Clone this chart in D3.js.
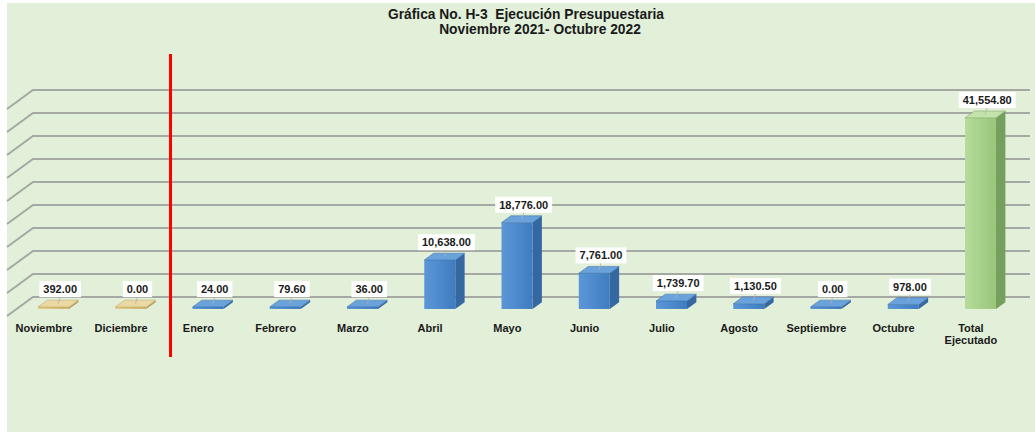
<!DOCTYPE html>
<html>
<head>
<meta charset="utf-8">
<script src="https://d3js.org/d3.v7.min.js"></script>
<style>
  body { margin: 0; background: #fff; }
  text { font-family: "Liberation Sans", Arial, Helvetica, sans-serif; font-weight: bold; fill: #1a1a1a; }
  .title { white-space: pre; font-size: 13.8px; }
</style>
</head>
<body>
<script>
// data
var categories = ["Noviembre", "Diciembre", "Enero", "Febrero", "Marzo", "Abril", "Mayo",
  "Junio", "Julio", "Agosto", "Septiembre", "Octubre", "Total Ejecutado"];
var values = [392.00, 0.00, 24.00, 79.60, 36.00, 10638.00, 18776.00,
  7761.00, 1739.70, 1130.50, 0.00, 978.00, 41554.80];
var groups = ["prev", "prev", "cur", "cur", "cur", "cur", "cur",
  "cur", "cur", "cur", "cur", "cur", "total"];
var titleLines = ["Gráfica No. H-3  Ejecución Presupuestaria", "Noviembre 2021- Octubre 2022"];

var W = 1035, H = 432;
var depthX = -26, depthY = 19;     // floor depth vector (back wall -> front)
var dFront = 0.63, dBack = 0.27;   // bar depth positions
var barW = 31;
var fmt = d3.format(",.2f");

var svg = d3.select("body").append("svg").attr("width", W).attr("height", H);

svg.append("rect").attr("x", 7).attr("y", 3).attr("width", W - 7).attr("height", H - 3)
  .attr("fill", "#e2efd9");

var y = d3.scaleLinear().domain([0, 45000]).range([297, 90]);
var x = d3.scalePoint().domain(categories).range([69.9, 69.9 + 12 * 77.25]);

var colors = {
  prev: { front: ["#e0cc8a", "#cdb46c"], side: "#b9a062", top: "#ead9a2" },
  cur: { front: ["#5b97d8", "#3f7cc0"], side: "#3568a0", top: "#6aa2dc" },
  total: { front: ["#b6dc9b", "#98c67a"], side: "#769e5e", top: "#c2e3a9" }
};

var defs = svg.append("defs");
Object.keys(colors).forEach(function (k) {
  var g = defs.append("linearGradient").attr("id", "g-" + k)
    .attr("x1", "0").attr("x2", "1").attr("y1", "0").attr("y2", "0");
  g.append("stop").attr("offset", "0%").attr("stop-color", colors[k].front[0]);
  g.append("stop").attr("offset", "100%").attr("stop-color", colors[k].front[1]);
});

// title
svg.append("text").attr("class", "title").attr("x", 526).attr("y", 18.5).attr("text-anchor", "middle")
  .text(titleLines[0]);
svg.append("text").attr("class", "title").attr("x", 540).attr("y", 33.5).attr("text-anchor", "middle")
  .text(titleLines[1]);

// gridlines: back wall + left side wall
var grid = svg.append("g");
y.ticks(10).forEach(function (t) {
  grid.append("path")
    .attr("d", "M" + (33 + depthX) + "," + (y(t) + depthY) + "L33," + y(t) + "L1030," + y(t))
    .attr("fill", "none").attr("stroke", "#a6a8a3").attr("stroke-width", 2);
});

// bars
var bars = svg.append("g");
values.forEach(function (v, i) {
  var cx = x(categories[i]);
  var x0 = cx - barW / 2, x1 = cx + barW / 2;
  var h = Math.max(y(0) - y(v), 2);
  var top = y(0) - h;
  var c = colors[groups[i]];
  var off = [depthX * dFront, depthY * dFront];
  var offB = [depthX * dBack, depthY * dBack];
  function P(px, py, o) { return (px + o[0]) + "," + (py + o[1]); }
  // side
  bars.append("polygon")
    .attr("points", [P(x1, y(0), off), P(x1, y(0), offB), P(x1, top, offB), P(x1, top, off)].join(" "))
    .attr("fill", c.side);
  // front
  bars.append("rect").attr("x", x0 + off[0]).attr("y", top + off[1]).attr("width", barW).attr("height", h)
    .attr("fill", "url(#g-" + groups[i] + ")");
  // top
  bars.append("polygon")
    .attr("points", [P(x0, top, off), P(x1, top, off), P(x1, top, offB), P(x0, top, offB)].join(" "))
    .attr("fill", c.top).attr("stroke", c.side).attr("stroke-width", 0.5);

  // value label
  var tc = [cx + depthX * (dFront + dBack) / 2, top + depthY * (dFront + dBack) / 2];
  var boxBottom = top + offB[1] - 3;
  var g = svg.append("g");
  var t = g.append("text").attr("x", tc[0] + 2).attr("y", boxBottom - 4)
    .attr("text-anchor", "middle").style("font-size", "11px").text(fmt(v));
  var tw = t.node().getComputedTextLength();
  g.insert("rect", "text").attr("x", tc[0] + 2 - tw / 2 - 4).attr("y", boxBottom - 16)
    .attr("width", tw + 8).attr("height", 16).attr("fill", "#fff");
  g.append("line").attr("x1", tc[0] + 2).attr("x2", tc[0])
    .attr("y1", boxBottom).attr("y2", tc[1])
    .attr("stroke", "#b0b0b0").attr("stroke-width", 0.8);

  // category label (at floor front)
  var lx = cx + depthX;
  var words = categories[i].split(" ");
  var lab = svg.append("text").attr("x", lx).attr("y", 332).attr("text-anchor", "middle")
    .style("font-size", "11px");
  words.forEach(function (w, k) {
    lab.append("tspan").attr("x", lx).attr("dy", k ? 12 : 0).text(w);
  });
});

// separator between previous year and current year
var sepX = x(categories[2]) - barW / 2 + depthX * dFront - 22;
svg.append("line").attr("x1", sepX).attr("x2", sepX).attr("y1", 54).attr("y2", 357)
  .attr("stroke", "#ff0000").attr("stroke-width", 3);
</script>
</body>
</html>
